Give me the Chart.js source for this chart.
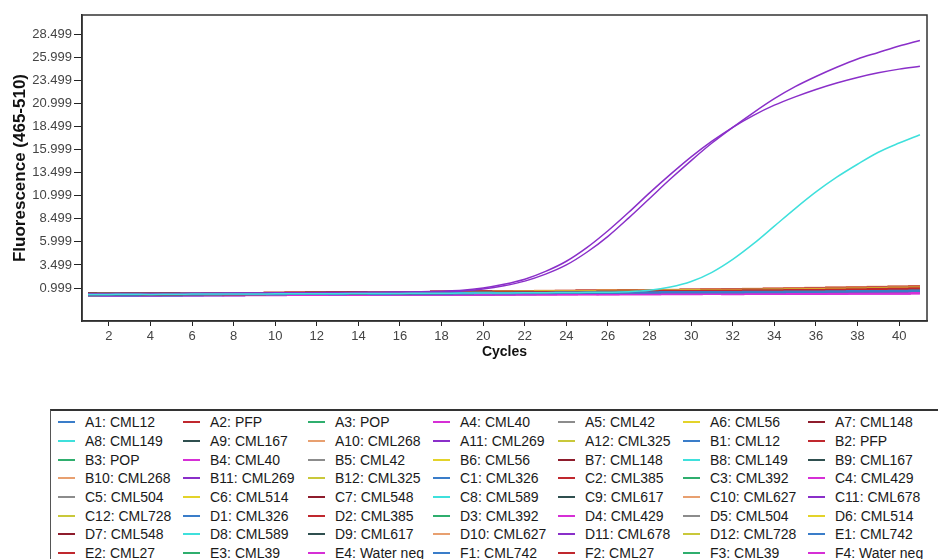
<!DOCTYPE html>
<html lang="en">
<head>
<meta charset="UTF-8">
<title>Fluorescence (465-510)</title>
<script src="https://cdn.jsdelivr.net/npm/chart.js"></script>
<style>
    body { margin: 0; background: #fff; font-family: "Liberation Sans", Arial, sans-serif; }
    #wrap { position: relative; width: 938px; height: 559px; overflow: hidden; }
    #curves { position: absolute; left: 0; top: 0; }
    #legend {
        position: absolute; left: 50px; top: 409px; width: 920px; height: 200px;
        border: 1px solid #555; border-top: 2px solid #333;
        padding: 2px 0 0 7px;
        display: grid; grid-template-columns: repeat(7, 125px); grid-auto-rows: 18.7px;
        font-size: 14px; color: #1a1a1a;
    }
    .item { display: flex; align-items: center; white-space: nowrap; }
    .item i { display: inline-block; width: 17px; height: 2px; margin-right: 10px; }
</style>
</head>
<body>
<div id="wrap">
    <canvas id="curves" width="938" height="380"></canvas>
    <div id="legend"></div>
</div>
<script>
// cycle numbers and axis ticks
const cycles = [1,2,3,4,5,6,7,8,9,10,11,12,13,14,15,16,17,18,19,20,21,22,23,24,25,26,27,28,29,30,31,32,33,34,35,36,37,38,39,40,41];
const xTicks = [2,4,6,8,10,12,14,16,18,20,22,24,26,28,30,32,34,36,38,40];
const yTicks = [0.999,3.499,5.999,8.499,10.999,13.499,15.999,18.499,20.999,23.499,25.999,28.499];

// wells and samples, legend order
const wells = ['A1','A2','A3','A4','A5','A6','A7','A8','A9','A10','A11','A12',
               'B1','B2','B3','B4','B5','B6','B7','B8','B9','B10','B11','B12',
               'C1','C2','C3','C4','C5','C6','C7','C8','C9','C10','C11','C12',
               'D1','D2','D3','D4','D5','D6','D7','D8','D9','D10','D11','D12',
               'E1','E2','E3','E4','F1','F2','F3','F4'];
const samples = ['CML12','PFP','POP','CML40','CML42','CML56','CML148','CML149','CML167','CML268','CML269','CML325',
                 'CML12','PFP','POP','CML40','CML42','CML56','CML148','CML149','CML167','CML268','CML269','CML325',
                 'CML326','CML385','CML392','CML429','CML504','CML514','CML548','CML589','CML617','CML627','CML678','CML728',
                 'CML326','CML385','CML392','CML429','CML504','CML514','CML548','CML589','CML617','CML627','CML678','CML728',
                 'CML742','CML27','CML39','Water neg','CML742','CML27','CML39','Water neg'];
// one colour per plate column 1..12
const columnColours = ['#3a7dc9','#c0282e','#2fae6e','#d62fd6','#8c8c8c','#e3d32a',
                       '#8e1c2c','#3fe0dc','#2f4f4f','#e8a070','#8a2fc9','#c9c83a'];

// fluorescence per cycle
const A1  = [0.30,0.31,0.30,0.32,0.33,0.32,0.34,0.35,0.34,0.36,0.37,0.37,0.39,0.40,0.39,0.41,0.42,0.42,0.44,0.45,0.44,0.46,0.47,0.48,0.48,0.50,0.51,0.51,0.53,0.54,0.55,0.55,0.57,0.58,0.60,0.61,0.62,0.64,0.66,0.68,0.70];
const A2  = [0.28,0.29,0.30,0.29,0.31,0.33,0.34,0.33,0.35,0.37,0.38,0.40,0.41,0.40,0.43,0.44,0.46,0.47,0.48,0.50,0.52,0.53,0.55,0.56,0.58,0.60,0.61,0.63,0.64,0.66,0.68,0.70,0.72,0.74,0.76,0.79,0.82,0.85,0.88,0.91,0.95];
const A3  = [0.25,0.27,0.29,0.31,0.30,0.32,0.33,0.35,0.36,0.35,0.37,0.39,0.40,0.41,0.42,0.44,0.43,0.45,0.47,0.48,0.49,0.51,0.52,0.54,0.55,0.56,0.58,0.59,0.61,0.62,0.64,0.65,0.67,0.69,0.70,0.72,0.74,0.76,0.78,0.80,0.82];
const A4  = [0.22,0.23,0.24,0.23,0.25,0.24,0.26,0.25,0.27,0.26,0.28,0.27,0.29,0.28,0.30,0.29,0.31,0.30,0.31,0.32,0.31,0.33,0.32,0.33,0.34,0.33,0.35,0.34,0.36,0.35,0.37,0.36,0.38,0.37,0.39,0.38,0.40,0.41,0.40,0.42,0.43];
const A5  = [0.33,0.34,0.33,0.35,0.36,0.37,0.36,0.38,0.39,0.40,0.41,0.40,0.42,0.43,0.44,0.45,0.44,0.46,0.47,0.49,0.50,0.51,0.52,0.53,0.54,0.56,0.57,0.58,0.59,0.61,0.62,0.63,0.65,0.66,0.67,0.69,0.70,0.72,0.74,0.76,0.78];
const A6  = [0.30,0.31,0.32,0.33,0.32,0.34,0.35,0.36,0.38,0.39,0.40,0.41,0.43,0.44,0.45,0.47,0.48,0.49,0.51,0.53,0.56,0.59,0.62,0.64,0.66,0.67,0.68,0.69,0.70,0.72,0.74,0.76,0.79,0.82,0.85,0.87,0.90,0.93,0.96,0.99,1.02];
const A7  = [0.35,0.36,0.35,0.37,0.38,0.38,0.40,0.41,0.42,0.43,0.44,0.46,0.47,0.48,0.49,0.51,0.52,0.53,0.55,0.56,0.58,0.59,0.61,0.62,0.64,0.66,0.67,0.69,0.71,0.73,0.75,0.78,0.80,0.83,0.86,0.89,0.92,0.96,0.99,1.03,1.06];
const A8  = [0.30,0.31,0.32,0.31,0.33,0.34,0.35,0.34,0.36,0.37,0.38,0.39,0.39,0.40,0.41,0.42,0.43,0.44,0.45,0.46,0.47,0.48,0.50,0.51,0.53,0.55,0.60,0.75,1.10,1.70,2.70,4.10,5.80,7.70,9.60,11.40,13.00,14.40,15.70,16.70,17.60];
const A9  = [0.31,0.32,0.32,0.33,0.34,0.34,0.35,0.36,0.36,0.37,0.38,0.38,0.39,0.40,0.41,0.41,0.42,0.43,0.44,0.44,0.45,0.46,0.47,0.47,0.48,0.49,0.50,0.51,0.52,0.53,0.54,0.55,0.56,0.57,0.58,0.60,0.61,0.62,0.64,0.65,0.67];
const A10 = [0.24,0.26,0.27,0.29,0.30,0.31,0.33,0.34,0.36,0.37,0.39,0.40,0.42,0.43,0.45,0.46,0.48,0.50,0.53,0.55,0.57,0.59,0.61,0.63,0.65,0.67,0.69,0.71,0.73,0.75,0.78,0.80,0.83,0.86,0.89,0.92,0.96,1.00,1.04,1.08,1.12];
const A11 = [0.35,0.36,0.37,0.38,0.38,0.40,0.41,0.42,0.43,0.45,0.46,0.47,0.49,0.50,0.52,0.54,0.56,0.59,0.68,0.90,1.25,1.75,2.50,3.50,4.90,6.60,8.60,10.70,12.80,14.80,16.70,18.40,20.00,21.50,22.80,23.90,24.90,25.80,26.50,27.20,27.80];
const A12 = [0.28,0.29,0.30,0.31,0.31,0.32,0.33,0.34,0.35,0.36,0.37,0.38,0.39,0.40,0.41,0.42,0.44,0.45,0.47,0.49,0.51,0.53,0.55,0.56,0.58,0.59,0.61,0.62,0.64,0.65,0.67,0.69,0.71,0.73,0.75,0.77,0.80,0.83,0.86,0.89,0.92];
const B1  = [0.20,0.21,0.22,0.22,0.23,0.24,0.25,0.25,0.26,0.27,0.28,0.28,0.29,0.30,0.31,0.31,0.32,0.33,0.34,0.34,0.35,0.36,0.37,0.37,0.38,0.39,0.40,0.41,0.42,0.43,0.44,0.45,0.46,0.48,0.49,0.50,0.52,0.53,0.55,0.56,0.58];
const B2  = [0.34,0.35,0.36,0.36,0.38,0.39,0.40,0.41,0.43,0.44,0.45,0.47,0.48,0.50,0.51,0.53,0.54,0.56,0.57,0.59,0.61,0.62,0.64,0.66,0.68,0.70,0.72,0.74,0.76,0.79,0.81,0.84,0.87,0.90,0.93,0.97,1.00,1.04,1.08,1.12,1.16];
const B3  = [0.27,0.28,0.29,0.29,0.30,0.31,0.32,0.33,0.34,0.35,0.35,0.36,0.37,0.38,0.39,0.40,0.41,0.42,0.43,0.44,0.45,0.46,0.47,0.48,0.49,0.51,0.52,0.53,0.55,0.56,0.58,0.59,0.61,0.62,0.64,0.66,0.67,0.69,0.71,0.73,0.75];
const B4  = [0.26,0.27,0.27,0.28,0.28,0.29,0.30,0.30,0.31,0.32,0.32,0.33,0.34,0.34,0.35,0.36,0.36,0.37,0.37,0.38,0.39,0.39,0.40,0.41,0.41,0.42,0.43,0.43,0.44,0.45,0.46,0.46,0.47,0.48,0.49,0.49,0.50,0.51,0.52,0.53,0.54];
const B5  = [0.36,0.37,0.37,0.38,0.39,0.40,0.41,0.41,0.42,0.43,0.44,0.45,0.46,0.47,0.48,0.49,0.50,0.51,0.52,0.53,0.54,0.55,0.56,0.57,0.58,0.60,0.61,0.62,0.64,0.65,0.67,0.68,0.70,0.72,0.73,0.75,0.77,0.79,0.81,0.83,0.86];
const B6  = [0.29,0.30,0.31,0.32,0.33,0.34,0.35,0.36,0.37,0.38,0.40,0.41,0.42,0.43,0.45,0.46,0.47,0.49,0.51,0.54,0.57,0.60,0.62,0.63,0.64,0.65,0.67,0.68,0.70,0.71,0.73,0.75,0.77,0.79,0.81,0.83,0.86,0.88,0.91,0.94,0.97];
const B7  = [0.31,0.32,0.33,0.34,0.35,0.36,0.37,0.38,0.39,0.41,0.42,0.43,0.45,0.46,0.47,0.49,0.50,0.52,0.53,0.55,0.56,0.58,0.60,0.61,0.63,0.65,0.67,0.69,0.71,0.73,0.75,0.77,0.79,0.82,0.84,0.87,0.90,0.93,0.96,0.99,1.02];
const B8  = [0.29,0.30,0.30,0.31,0.32,0.33,0.33,0.34,0.35,0.36,0.36,0.37,0.38,0.39,0.40,0.40,0.41,0.42,0.43,0.44,0.45,0.46,0.47,0.48,0.49,0.50,0.51,0.52,0.53,0.54,0.55,0.57,0.58,0.59,0.61,0.62,0.64,0.65,0.67,0.69,0.71];
const B9  = [0.37,0.38,0.38,0.39,0.40,0.40,0.41,0.42,0.43,0.43,0.44,0.45,0.46,0.47,0.47,0.48,0.49,0.50,0.51,0.52,0.53,0.54,0.55,0.56,0.57,0.58,0.59,0.60,0.62,0.63,0.64,0.65,0.67,0.68,0.70,0.71,0.73,0.74,0.76,0.78,0.80];
const B10 = [0.33,0.34,0.35,0.37,0.38,0.39,0.41,0.42,0.43,0.45,0.46,0.48,0.49,0.51,0.52,0.54,0.55,0.57,0.59,0.61,0.63,0.65,0.67,0.69,0.71,0.73,0.75,0.77,0.79,0.82,0.84,0.87,0.90,0.93,0.96,0.99,1.03,1.07,1.11,1.15,1.19];
const B11 = [0.38,0.39,0.40,0.40,0.42,0.43,0.44,0.45,0.46,0.48,0.49,0.50,0.52,0.53,0.55,0.57,0.60,0.66,0.75,1.00,1.40,1.95,2.80,3.90,5.40,7.20,9.20,11.30,13.30,15.20,16.90,18.40,19.70,20.80,21.70,22.50,23.20,23.80,24.30,24.70,25.00];
const B12 = [0.27,0.28,0.29,0.30,0.31,0.32,0.33,0.33,0.34,0.35,0.36,0.37,0.38,0.39,0.40,0.41,0.42,0.44,0.45,0.47,0.48,0.50,0.51,0.53,0.54,0.56,0.57,0.59,0.60,0.62,0.64,0.66,0.67,0.69,0.71,0.73,0.75,0.78,0.80,0.83,0.86];
const C1  = [0.23,0.24,0.25,0.25,0.26,0.27,0.28,0.28,0.29,0.30,0.31,0.31,0.32,0.33,0.34,0.34,0.35,0.36,0.37,0.37,0.38,0.39,0.40,0.41,0.42,0.42,0.43,0.44,0.45,0.46,0.47,0.48,0.49,0.51,0.52,0.53,0.54,0.56,0.57,0.59,0.61];
const C2  = [0.32,0.33,0.34,0.35,0.36,0.37,0.38,0.40,0.41,0.42,0.44,0.45,0.46,0.48,0.49,0.51,0.52,0.54,0.55,0.57,0.58,0.60,0.62,0.63,0.65,0.67,0.69,0.71,0.73,0.75,0.77,0.80,0.82,0.85,0.88,0.91,0.94,0.97,1.01,1.04,1.08];
const C3  = [0.30,0.31,0.32,0.33,0.33,0.34,0.35,0.36,0.37,0.38,0.39,0.40,0.41,0.42,0.43,0.44,0.45,0.46,0.47,0.48,0.50,0.51,0.52,0.53,0.55,0.56,0.58,0.59,0.61,0.62,0.64,0.66,0.68,0.70,0.72,0.74,0.76,0.79,0.81,0.84,0.87];
const C4  = [0.24,0.25,0.25,0.26,0.26,0.27,0.28,0.28,0.29,0.30,0.30,0.31,0.32,0.32,0.33,0.34,0.34,0.35,0.36,0.36,0.37,0.38,0.38,0.39,0.40,0.40,0.41,0.42,0.43,0.43,0.44,0.45,0.46,0.46,0.47,0.48,0.49,0.50,0.50,0.51,0.52];
const C5  = [0.34,0.35,0.35,0.36,0.37,0.38,0.38,0.39,0.40,0.41,0.42,0.43,0.44,0.44,0.45,0.46,0.47,0.48,0.49,0.50,0.51,0.52,0.53,0.55,0.56,0.57,0.58,0.59,0.61,0.62,0.63,0.65,0.66,0.68,0.69,0.71,0.73,0.75,0.77,0.79,0.81];
const C6  = [0.30,0.31,0.32,0.33,0.34,0.34,0.35,0.36,0.37,0.39,0.40,0.41,0.42,0.43,0.45,0.46,0.48,0.49,0.51,0.53,0.55,0.57,0.59,0.61,0.63,0.64,0.66,0.67,0.69,0.71,0.73,0.75,0.77,0.79,0.81,0.84,0.86,0.89,0.92,0.95,0.98];
const C7  = [0.36,0.37,0.38,0.39,0.40,0.41,0.42,0.43,0.44,0.45,0.47,0.48,0.49,0.50,0.52,0.53,0.54,0.56,0.57,0.59,0.60,0.62,0.63,0.65,0.67,0.68,0.70,0.72,0.74,0.76,0.78,0.80,0.83,0.85,0.88,0.90,0.93,0.96,0.99,1.02,1.05];
const C8  = [0.28,0.29,0.29,0.30,0.31,0.31,0.32,0.33,0.34,0.34,0.35,0.36,0.37,0.37,0.38,0.39,0.40,0.41,0.41,0.42,0.43,0.44,0.45,0.46,0.47,0.48,0.49,0.50,0.51,0.52,0.53,0.55,0.56,0.57,0.59,0.60,0.62,0.63,0.65,0.66,0.68];
const C9  = [0.35,0.36,0.36,0.37,0.38,0.38,0.39,0.40,0.41,0.41,0.42,0.43,0.44,0.45,0.45,0.46,0.47,0.48,0.49,0.50,0.51,0.52,0.53,0.54,0.55,0.56,0.57,0.58,0.59,0.61,0.62,0.63,0.65,0.66,0.67,0.69,0.70,0.72,0.74,0.76,0.78];
const C10 = [0.30,0.31,0.32,0.34,0.35,0.36,0.37,0.39,0.40,0.41,0.43,0.44,0.45,0.47,0.48,0.50,0.51,0.53,0.55,0.57,0.59,0.61,0.62,0.64,0.66,0.68,0.70,0.72,0.74,0.76,0.79,0.81,0.84,0.86,0.89,0.92,0.95,0.98,1.01,1.04,1.07];
const C11 = [0.27,0.28,0.28,0.29,0.30,0.30,0.31,0.32,0.33,0.33,0.34,0.35,0.35,0.36,0.37,0.38,0.38,0.39,0.40,0.41,0.41,0.42,0.43,0.44,0.45,0.45,0.46,0.47,0.48,0.49,0.50,0.51,0.52,0.53,0.54,0.55,0.56,0.57,0.58,0.59,0.61];
const C12 = [0.29,0.30,0.31,0.32,0.33,0.34,0.35,0.36,0.36,0.37,0.38,0.39,0.40,0.42,0.43,0.44,0.45,0.46,0.48,0.50,0.52,0.54,0.56,0.57,0.58,0.60,0.61,0.63,0.64,0.66,0.68,0.69,0.71,0.73,0.75,0.78,0.80,0.82,0.85,0.88,0.91];
const D1  = [0.21,0.22,0.23,0.23,0.24,0.25,0.26,0.26,0.27,0.28,0.29,0.29,0.30,0.31,0.32,0.32,0.33,0.34,0.35,0.35,0.36,0.37,0.38,0.38,0.39,0.40,0.41,0.42,0.43,0.44,0.45,0.46,0.47,0.48,0.49,0.50,0.51,0.53,0.54,0.55,0.57];
const D2  = [0.33,0.34,0.35,0.36,0.37,0.38,0.40,0.41,0.42,0.43,0.45,0.46,0.47,0.49,0.50,0.52,0.53,0.55,0.56,0.58,0.60,0.61,0.63,0.65,0.67,0.69,0.71,0.73,0.75,0.77,0.79,0.82,0.84,0.87,0.90,0.93,0.96,0.99,1.03,1.07,1.11];
const D3  = [0.31,0.32,0.33,0.34,0.35,0.35,0.36,0.37,0.38,0.39,0.40,0.41,0.42,0.43,0.44,0.45,0.46,0.47,0.48,0.50,0.51,0.52,0.54,0.55,0.56,0.58,0.59,0.61,0.62,0.64,0.66,0.68,0.70,0.72,0.74,0.76,0.79,0.81,0.84,0.87,0.90];
const D4  = [0.25,0.26,0.26,0.27,0.27,0.28,0.28,0.29,0.30,0.30,0.31,0.31,0.32,0.33,0.33,0.34,0.34,0.35,0.36,0.36,0.37,0.37,0.38,0.39,0.39,0.40,0.40,0.41,0.42,0.42,0.43,0.44,0.44,0.45,0.46,0.46,0.47,0.48,0.48,0.49,0.50];
const D5  = [0.35,0.36,0.36,0.37,0.38,0.39,0.40,0.40,0.41,0.42,0.43,0.44,0.45,0.46,0.47,0.48,0.48,0.49,0.50,0.51,0.52,0.53,0.55,0.56,0.57,0.58,0.59,0.61,0.62,0.63,0.65,0.66,0.68,0.70,0.71,0.73,0.75,0.77,0.79,0.81,0.84];
const D6  = [0.31,0.32,0.33,0.34,0.35,0.36,0.37,0.38,0.39,0.40,0.41,0.43,0.44,0.45,0.46,0.48,0.49,0.51,0.53,0.56,0.59,0.61,0.63,0.64,0.66,0.67,0.69,0.71,0.72,0.74,0.76,0.78,0.80,0.83,0.85,0.88,0.91,0.94,0.97,1.00,1.03];
const D7  = [0.34,0.35,0.36,0.37,0.38,0.39,0.40,0.42,0.43,0.44,0.46,0.47,0.48,0.50,0.51,0.53,0.54,0.56,0.57,0.59,0.61,0.62,0.64,0.66,0.68,0.70,0.72,0.74,0.76,0.78,0.80,0.83,0.85,0.88,0.91,0.94,0.97,1.00,1.04,1.07,1.11];
const D8  = [0.27,0.28,0.28,0.29,0.30,0.31,0.31,0.32,0.33,0.34,0.34,0.35,0.36,0.37,0.37,0.38,0.39,0.40,0.41,0.42,0.42,0.43,0.44,0.45,0.46,0.47,0.48,0.49,0.50,0.51,0.52,0.54,0.55,0.56,0.58,0.59,0.60,0.62,0.64,0.65,0.67];
const D9  = [0.36,0.37,0.37,0.38,0.39,0.39,0.40,0.41,0.41,0.42,0.43,0.44,0.44,0.45,0.46,0.47,0.47,0.48,0.49,0.50,0.51,0.52,0.53,0.53,0.54,0.55,0.56,0.57,0.58,0.59,0.61,0.62,0.63,0.64,0.66,0.67,0.69,0.70,0.72,0.74,0.76];
const D10 = [0.29,0.30,0.32,0.33,0.34,0.35,0.37,0.38,0.39,0.41,0.42,0.43,0.45,0.46,0.48,0.49,0.51,0.52,0.54,0.56,0.58,0.60,0.62,0.64,0.65,0.67,0.69,0.71,0.73,0.75,0.77,0.80,0.82,0.85,0.87,0.90,0.93,0.96,0.99,1.02,1.05];
const D11 = [0.26,0.27,0.28,0.28,0.29,0.30,0.31,0.31,0.32,0.33,0.34,0.34,0.35,0.36,0.37,0.37,0.38,0.39,0.40,0.41,0.41,0.42,0.43,0.44,0.45,0.46,0.47,0.48,0.49,0.50,0.51,0.52,0.53,0.54,0.55,0.56,0.57,0.59,0.60,0.61,0.63];
const D12 = [0.28,0.29,0.30,0.31,0.32,0.33,0.34,0.35,0.36,0.37,0.38,0.39,0.40,0.41,0.42,0.43,0.44,0.46,0.47,0.49,0.51,0.53,0.54,0.56,0.57,0.59,0.60,0.62,0.63,0.65,0.67,0.68,0.70,0.72,0.74,0.76,0.79,0.81,0.84,0.86,0.89];
const E1  = [0.22,0.23,0.24,0.24,0.25,0.26,0.27,0.27,0.28,0.29,0.30,0.30,0.31,0.32,0.33,0.33,0.34,0.35,0.36,0.37,0.37,0.38,0.39,0.40,0.40,0.41,0.42,0.43,0.44,0.45,0.46,0.47,0.48,0.49,0.51,0.52,0.53,0.54,0.56,0.57,0.59];
const E2  = [0.33,0.34,0.35,0.36,0.37,0.38,0.39,0.40,0.41,0.42,0.43,0.45,0.46,0.47,0.49,0.50,0.51,0.53,0.54,0.56,0.57,0.59,0.61,0.62,0.64,0.66,0.68,0.69,0.71,0.73,0.75,0.78,0.80,0.82,0.85,0.87,0.90,0.93,0.96,0.99,1.03];
const E3  = [0.29,0.30,0.31,0.32,0.33,0.34,0.35,0.36,0.37,0.38,0.39,0.40,0.41,0.42,0.43,0.44,0.45,0.47,0.48,0.49,0.51,0.52,0.53,0.55,0.56,0.58,0.59,0.61,0.63,0.64,0.66,0.68,0.70,0.72,0.74,0.77,0.79,0.82,0.85,0.88,0.91];
const E4  = [0.20,0.21,0.21,0.22,0.22,0.23,0.23,0.24,0.25,0.25,0.26,0.26,0.27,0.28,0.28,0.29,0.29,0.30,0.31,0.31,0.32,0.32,0.33,0.34,0.34,0.35,0.35,0.36,0.37,0.37,0.38,0.39,0.39,0.40,0.41,0.41,0.42,0.43,0.43,0.44,0.45];
const F1  = [0.24,0.25,0.26,0.26,0.27,0.28,0.29,0.29,0.30,0.31,0.32,0.32,0.33,0.34,0.35,0.36,0.36,0.37,0.38,0.39,0.40,0.40,0.41,0.42,0.43,0.44,0.45,0.46,0.47,0.48,0.49,0.50,0.51,0.52,0.54,0.55,0.56,0.58,0.59,0.61,0.62];
const F2  = [0.35,0.36,0.37,0.38,0.39,0.40,0.41,0.43,0.44,0.45,0.47,0.48,0.49,0.51,0.52,0.54,0.55,0.57,0.58,0.60,0.62,0.63,0.65,0.67,0.69,0.71,0.73,0.75,0.77,0.79,0.82,0.84,0.87,0.90,0.92,0.95,0.99,1.02,1.06,1.10,1.14];
const F3  = [0.32,0.33,0.34,0.35,0.35,0.36,0.37,0.38,0.39,0.40,0.41,0.42,0.43,0.44,0.45,0.46,0.47,0.48,0.50,0.51,0.52,0.54,0.55,0.56,0.58,0.59,0.61,0.62,0.64,0.66,0.67,0.69,0.71,0.73,0.75,0.78,0.80,0.83,0.86,0.89,0.93];
const F4  = [0.21,0.22,0.22,0.23,0.24,0.24,0.25,0.25,0.26,0.27,0.27,0.28,0.29,0.29,0.30,0.31,0.31,0.32,0.32,0.33,0.34,0.34,0.35,0.36,0.36,0.37,0.38,0.38,0.39,0.40,0.40,0.41,0.42,0.42,0.43,0.44,0.45,0.45,0.46,0.47,0.48];

const series = [A1,A2,A3,A4,A5,A6,A7,A8,A9,A10,A11,A12,
                B1,B2,B3,B4,B5,B6,B7,B8,B9,B10,B11,B12,
                C1,C2,C3,C4,C5,C6,C7,C8,C9,C10,C11,C12,
                D1,D2,D3,D4,D5,D6,D7,D8,D9,D10,D11,D12,
                E1,E2,E3,E4,F1,F2,F3,F4];
// wells that came up
const amplified = ['A8','A11','B11'];

function colourOf(well) {
    return columnColours[parseInt(well.slice(1), 10) - 1];
}

const datasets = wells.map((w, i) => {
    const up = amplified.includes(w);
    return {
        label: w + ': ' + samples[i],
        data: series[i].map((v, k) => ({ x: cycles[k], y: v })),
        borderColor: colourOf(w),
        borderWidth: up ? 1.5 : 2.5,
        stepped: up ? false : 'middle',
        cubicInterpolationMode: up ? 'monotone' : 'default',
        pointRadius: 0,
        order: up ? 0 : 1
    };
});

Chart.defaults.font.family = '"Liberation Sans", Arial, sans-serif';

const framePlugin = {
    id: 'frame',
    afterDraw(chart) {
        const { ctx, chartArea: a } = chart;
        ctx.save();
        ctx.strokeStyle = '#333';
        ctx.lineWidth = 1.5;
        ctx.strokeRect(a.left, a.top, a.right - a.left, a.bottom - a.top);
        ctx.restore();
    }
};

new Chart(document.getElementById('curves'), {
    type: 'line',
    data: { datasets },
    options: {
        responsive: false,
        animation: false,
        layout: { padding: { top: 15, right: 11, left: 0, bottom: 0 } },
        plugins: { legend: { display: false }, tooltip: { enabled: false } },
        scales: {
            x: {
                type: 'linear',
                min: 0.71,
                max: 41.34,
                afterBuildTicks: s => { s.ticks = xTicks.map(v => ({ value: v })); },
                afterFit: s => { s.height = 59; },
                grid: { drawOnChartArea: false, tickLength: 5, color: '#222' },
                border: { color: '#222', width: 1.5 },
                ticks: { color: '#444', font: { size: 13 }, padding: 3, maxRotation: 0, autoSkip: false,
                         callback: v => String(v) },
                title: { display: true, text: 'Cycles', color: '#111',
                         font: { size: 14, weight: 'bold' }, padding: { top: 0, bottom: 19 } }
            },
            y: {
                type: 'linear',
                min: -2.57,
                max: 30.56,
                afterBuildTicks: s => { s.ticks = yTicks.map(v => ({ value: v })); },
                afterFit: s => { s.width = 82; },
                grid: { drawOnChartArea: false, tickLength: 8, color: '#222' },
                border: { color: '#222', width: 1.5 },
                ticks: { color: '#444', font: { size: 13 }, padding: 2, autoSkip: false,
                         callback: v => v.toFixed(3) },
                title: { display: true, text: 'Fluorescence (465-510)', color: '#111',
                         font: { size: 17, weight: 'bold' }, padding: { top: 10, bottom: 0 } }
            }
        }
    },
    plugins: [framePlugin]
});

// legend grid, seven entries per row
const legend = document.getElementById('legend');
wells.forEach((w, i) => {
    const item = document.createElement('div');
    item.className = 'item';
    const mark = document.createElement('i');
    mark.style.background = colourOf(w);
    item.appendChild(mark);
    item.appendChild(document.createTextNode(w + ': ' + samples[i]));
    legend.appendChild(item);
});
</script>
</body>
</html>
